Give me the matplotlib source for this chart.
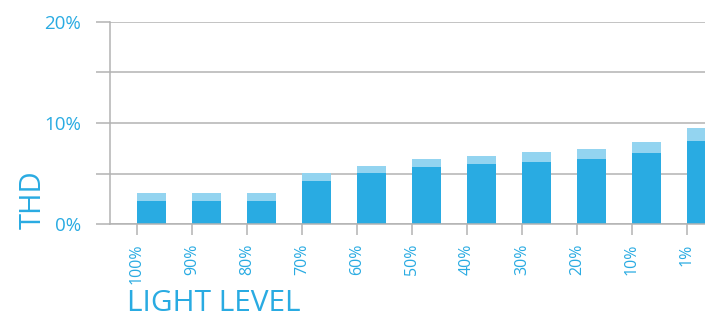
import numpy as np
import matplotlib.pyplot as plt

# light level categories and THD values (%)
levels = ['100%', '90%', '80%', '70%', '60%', '50%', '40%', '30%', '20%', '10%', '1%']
thd_low = [2.28, 2.28, 2.28, 4.26, 5.05, 5.64, 5.94, 6.14, 6.44, 7.03, 8.22]
thd_high = [3.07, 3.07, 3.07, 5.05, 5.74, 6.44, 6.73, 7.13, 7.43, 8.12, 9.50]

blue = '#29ABE2'
light_blue = '#93D4F0'
grey = '#B3B3B3'

plt.rcParams['font.family'] = ['Open Sans', 'DejaVu Sans']

fig = plt.figure(figsize=(7.05, 3.17), dpi=100)
ax = fig.add_axes([110 / 705, 93 / 317, 595 / 705, 202 / 317])

x = np.arange(len(levels))
low = np.array(thd_low)
high = np.array(thd_high)
ax.bar(x, low, width=0.527, align='edge', color=blue, zorder=3)
ax.bar(x, high - low, bottom=low, width=0.527, align='edge', color=light_blue, zorder=3)

ax.set_xlim(-0.491, 10.327)
ax.set_ylim(0, 20)

# sizes below are in points (1 px = 0.72 pt at 100 dpi)
ax.set_yticks([0, 5, 10, 15, 20])
ax.set_yticklabels(['0%', '', '10%', '', '20%'])
ax.yaxis.grid(True, color=grey, linewidth=1.1, zorder=0)
ax.tick_params(axis='y', length=10, width=1.1, color=grey, labelcolor=blue,
               labelsize=13.5, pad=11)

ax.set_xticks(x)
ax.set_xticklabels(levels, rotation=90, va='top')
ax.tick_params(axis='x', length=8, width=1.1, color=grey, labelcolor=blue,
               labelsize=11.5, pad=6)

for side in ['top', 'right']:
    ax.spines[side].set_visible(False)
for side in ['left', 'bottom']:
    ax.spines[side].set_color(grey)
    ax.spines[side].set_linewidth(1.1)
    ax.spines[side].set_zorder(4)

fig.text(33 / 705, 1 - 200 / 317, 'THD', rotation=90, color=blue, fontsize=21,
         ha='center', va='center')
fig.text(127 / 705, 1 - 311 / 317, 'LIGHT LEVEL', color=blue, fontsize=21.5,
         ha='left', va='baseline')

fig.savefig('out.png', dpi=100)
